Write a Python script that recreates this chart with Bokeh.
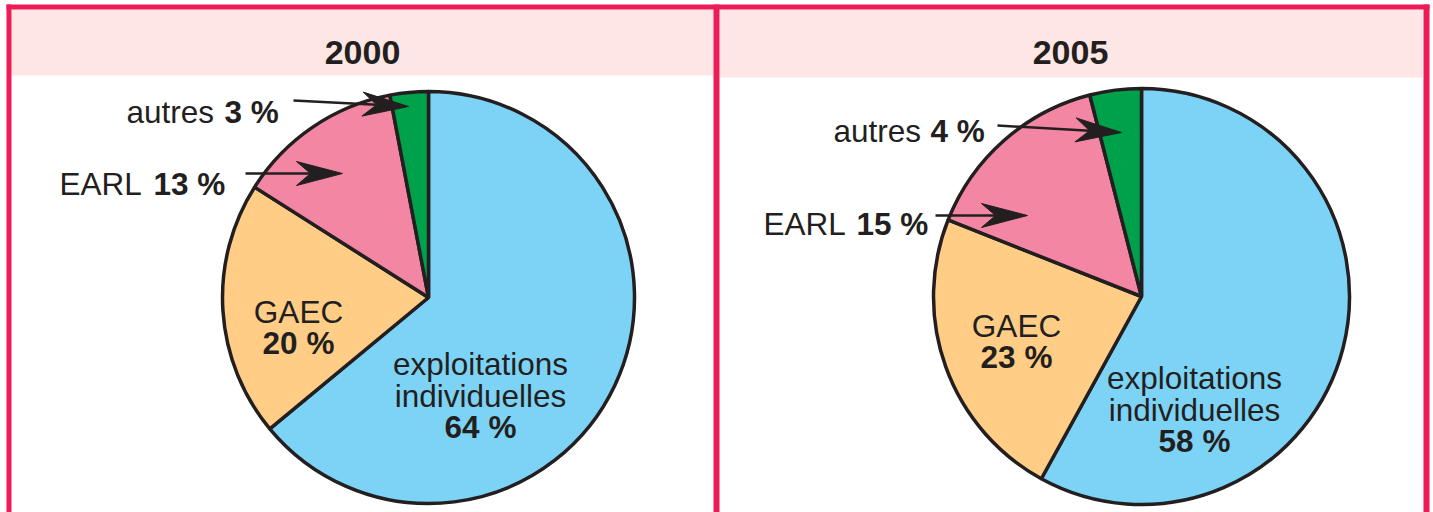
import math
from bokeh.plotting import figure
from bokeh.models import Range1d
from bokeh.core.properties import value
from bokeh.embed import file_html
from bokeh.resources import INLINE

# ---------------- data ----------------
years = ["2000", "2005"]
categories = ["exploitations individuelles", "GAEC", "EARL", "autres"]
share_2000 = [64, 20, 13, 3]
share_2005 = [58, 23, 15, 4]
slice_colors = ["#7DD3F5", "#FFCD85", "#F386A3", "#00A14B"]

# ---------------- style ----------------
BORDER = "#ED1B57"
HEADER = "#FDE6E3"
INK = "#231F20"
FONT = value("Liberation Sans")

W, H = 1433, 512
p = figure(width=W, height=H, x_range=Range1d(0, W), y_range=Range1d(0, H),
           output_backend="svg", toolbar_location=None,
           x_axis_location=None, y_axis_location=None, min_border=0)
p.grid.visible = False
p.outline_line_color = None
p.background_fill_color = "white"
p.border_fill_color = "white"


def Y(sy):
    return 512 - sy


# header bands
p.quad(left=[11, 719], right=[713, 1422], top=[Y(9), Y(9)], bottom=[Y(75), Y(77)],
       fill_color=HEADER, line_color=None)
# borders
p.quad(left=[6, 6, 713, 1423], right=[1429, 11, 719, 1429],
       top=[Y(4), Y(4), Y(4), Y(4)], bottom=[Y(9), Y(512), Y(512), Y(512)],
       fill_color=BORDER, line_color=None)

panels = [
    dict(year=years[0], shares=share_2000, cx=428, cy=297, r=206, title_x=362),
    dict(year=years[1], shares=share_2005, cx=1141, cy=296, r=208, title_x=1070),
]

for pn in panels:
    total = sum(pn["shares"])
    cum = 0.0
    starts, ends = [], []
    for v in pn["shares"]:
        starts.append(math.pi / 2 - 2 * math.pi * cum / total)
        cum += v
        ends.append(math.pi / 2 - 2 * math.pi * cum / total)
    n = len(pn["shares"])
    p.wedge(x=[pn["cx"]] * n, y=[Y(pn["cy"])] * n, radius=pn["r"],
            start_angle=starts, end_angle=ends, direction="clock",
            fill_color=slice_colors, line_color=INK, line_width=3.5)
    p.text(x=[pn["title_x"]], y=[Y(52)], text=[pn["year"]], text_font=FONT,
           text_font_size="34px", text_font_style="bold", text_align="center",
           text_baseline="alphabetic", text_color=INK)


def arrow(x0, y0, x1, y1, length=46, half=12, notch=32):
    dx, dy = x1 - x0, y1 - y0
    d = math.hypot(dx, dy)
    ux, uy = dx / d, dy / d
    nx, ny = -uy, ux
    bx, by = x1 - ux * length, y1 - uy * length
    kx, ky = x1 - ux * notch, y1 - uy * notch
    p.line([x0, kx], [Y(y0), Y(ky)], line_color=INK, line_width=2.5)
    p.patch([x1, bx + nx * half, kx, bx - nx * half],
            [Y(y1), Y(by + ny * half), Y(ky), Y(by - ny * half)],
            fill_color=INK, line_color=INK, line_width=1)


def txt(x, y, s, bold=False, align="left", size="31.5px"):
    p.text(x=[x], y=[Y(y)], text=[s], text_font=FONT, text_font_size=size,
           text_font_style="bold" if bold else "normal", text_align=align,
           text_baseline="alphabetic", text_color=INK)


def pct(v):
    return f"{v} %"


# ---- 2000 labels ----
txt(126, 111, categories[3])
txt(224, 111, pct(share_2000[3]), bold=True)
arrow(293, 100, 408, 106)
txt(59, 183, categories[2])
txt(153, 183, pct(share_2000[2]), bold=True)
arrow(245, 173, 342, 173)
txt(298, 311, categories[1], align="center")
txt(298, 342, pct(share_2000[1]), bold=True, align="center")
w1, w2 = categories[0].split(" ")
txt(480, 363, w1, align="center")
txt(480, 395, w2, align="center")
txt(480, 426, pct(share_2000[0]), bold=True, align="center")

# ---- 2005 labels ----
txt(833, 130, categories[3])
txt(930, 130, pct(share_2005[3]), bold=True)
arrow(997, 125, 1121, 132)
txt(763, 223, categories[2])
txt(856, 223, pct(share_2005[2]), bold=True)
arrow(935, 215, 1027, 215)
txt(1016, 325, categories[1], align="center")
txt(1016, 356, pct(share_2005[1]), bold=True, align="center")
txt(1194, 377, w1, align="center")
txt(1194, 409, w2, align="center")
txt(1194, 440, pct(share_2005[0]), bold=True, align="center")

open("out.html", "w").write(file_html(p, INLINE))
